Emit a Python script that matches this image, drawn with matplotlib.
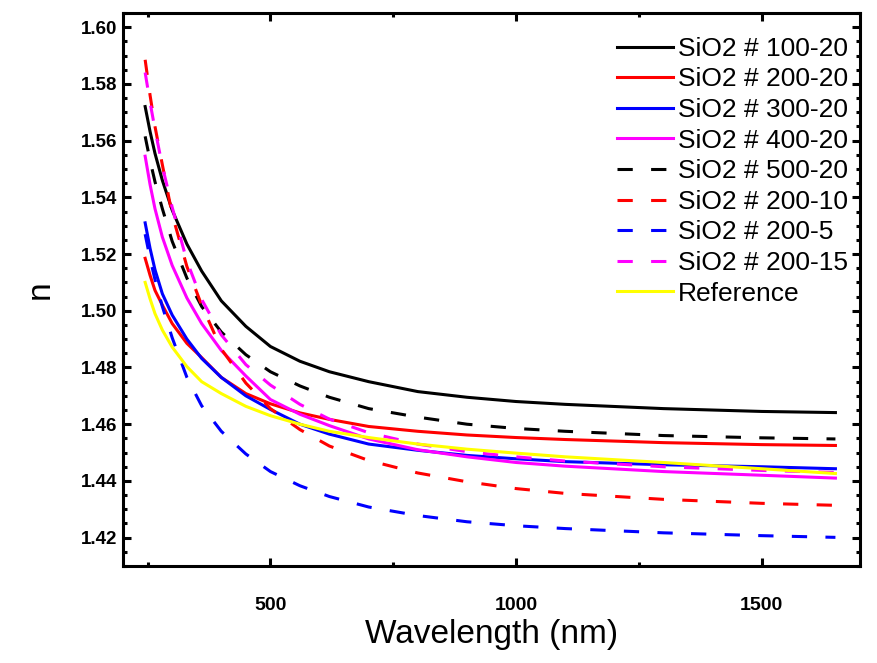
import matplotlib
matplotlib.use("Agg")
import matplotlib.pyplot as plt
from matplotlib.ticker import MultipleLocator, FormatStrFormatter

# --- Data (wavelength in nm, refractive index n) ---
wavelength = [245, 255, 265, 280, 300, 330, 360, 400, 450, 500, 560, 620, 700,
              800, 900, 1000, 1100, 1300, 1500, 1650]

n_100_20 = [1.5720, 1.5632, 1.5555, 1.5460, 1.5355, 1.5235, 1.5140, 1.5035, 1.4945, 1.4874, 1.4822,
            1.4785, 1.4750, 1.4715, 1.4695, 1.4680, 1.4670, 1.4655, 1.4645, 1.4641]
n_200_20 = [1.5185, 1.5125, 1.5072, 1.5020, 1.4955, 1.4885, 1.4835, 1.4765, 1.4708, 1.4672, 1.4640,
            1.4617, 1.4592, 1.4575, 1.4562, 1.4553, 1.4546, 1.4535, 1.4528, 1.4525]
n_300_20 = [1.5310, 1.5220, 1.5145, 1.5060, 1.4985, 1.4900, 1.4832, 1.4765, 1.4700, 1.4652, 1.4600,
            1.4565, 1.4530, 1.4508, 1.4490, 1.4478, 1.4468, 1.4457, 1.4450, 1.4443]
n_400_20 = [1.5545, 1.5445, 1.5360, 1.5260, 1.5160, 1.5045, 1.4955, 1.4860, 1.4770, 1.4687, 1.4635,
            1.4595, 1.4548, 1.4510, 1.4485, 1.4465, 1.4452, 1.4433, 1.4420, 1.4410]
n_500_20 = [1.5615, 1.5530, 1.5455, 1.5360, 1.5245, 1.5115, 1.5015, 1.4925, 1.4845, 1.4785, 1.4735,
            1.4695, 1.4655, 1.4625, 1.4600, 1.4585, 1.4575, 1.4560, 1.4552, 1.4548]
n_200_10 = [1.5885, 1.5760, 1.5650, 1.5515, 1.5340, 1.5156, 1.5020, 1.4865, 1.4745, 1.4655, 1.4581,
            1.4523, 1.4472, 1.4428, 1.4397, 1.4373, 1.4356, 1.4335, 1.4321, 1.4314]
n_200_5 = [1.5270, 1.5185, 1.5110, 1.5015, 1.4905, 1.4765, 1.4665, 1.4575, 1.4495, 1.4433, 1.4383,
           1.4345, 1.4308, 1.4278, 1.4256, 1.4242, 1.4232, 1.4217, 1.4207, 1.4201]
n_200_15 = [1.5840, 1.5735, 1.5640, 1.5510, 1.5365, 1.5175, 1.5040, 1.4915, 1.4810, 1.4738, 1.4670,
            1.4618, 1.4570, 1.4530, 1.4503, 1.4485, 1.4470, 1.4450, 1.4437, 1.4430]
n_reference = [1.5100, 1.5042, 1.4990, 1.4932, 1.4872, 1.4803, 1.4750, 1.4708, 1.4663, 1.4630, 1.4600,
               1.4575, 1.4553, 1.4530, 1.4512, 1.4498, 1.4485, 1.4465, 1.4443, 1.4426]

labels = ['SiO2 # 100-20', 'SiO2 # 200-20', 'SiO2 # 300-20', 'SiO2 # 400-20',
          'SiO2 # 500-20', 'SiO2 # 200-10', 'SiO2 # 200-5', 'SiO2 # 200-15', 'Reference']
series = [n_100_20, n_200_20, n_300_20, n_400_20, n_500_20, n_200_10, n_200_5, n_200_15, n_reference]
colors = ['#000000', '#ff0000', '#0000ff', '#ff00ff', '#000000', '#ff0000', '#0000ff', '#ff00ff', '#ffff00']
dashed = (0, (5, 6))
styles = ['-', '-', '-', '-', dashed, dashed, dashed, dashed, '-']

plt.rcParams['font.family'] = ['Liberation Sans', 'DejaVu Sans']

fig = plt.figure(figsize=(8.77, 6.63), dpi=100)
ax = fig.add_axes([0.1403, 0.1463, 0.8403, 0.8341])

for vals, lab, col, ls in zip(series, labels, colors, styles):
    ax.plot(wavelength, vals, color=col, linestyle=ls, linewidth=2.2, label=lab)

ax.set_xlim(200, 1700)
ax.set_ylim(1.41, 1.605)

ax.xaxis.set_major_locator(MultipleLocator(500))
ax.xaxis.set_minor_locator(MultipleLocator(250))
ax.yaxis.set_major_locator(MultipleLocator(0.02))
ax.yaxis.set_minor_locator(MultipleLocator(0.005))
ax.yaxis.set_major_formatter(FormatStrFormatter('%.2f'))

for sp in ax.spines.values():
    sp.set_linewidth(2.2)

ax.tick_params(which='both', direction='in', top=True, right=True, width=2.2)
ax.tick_params(which='major', length=6)
ax.tick_params(which='minor', length=3)
ax.tick_params(axis='x', which='major', pad=22, labelsize=14)
ax.tick_params(axis='y', which='major', pad=4, labelsize=13.5)
for t in ax.get_xticklabels() + ax.get_yticklabels():
    t.set_fontweight('bold')

ax.set_xlabel('Wavelength (nm)', fontsize=24, labelpad=4)
ax.set_ylabel('n', fontsize=24, labelpad=18)

ax.legend(loc='upper right', bbox_to_anchor=(0.998, 0.976), frameon=False,
          fontsize=19, handlelength=2.1, handletextpad=0.2, labelspacing=0.25,
          borderaxespad=0.0)

fig.savefig('out.png', dpi=100)
